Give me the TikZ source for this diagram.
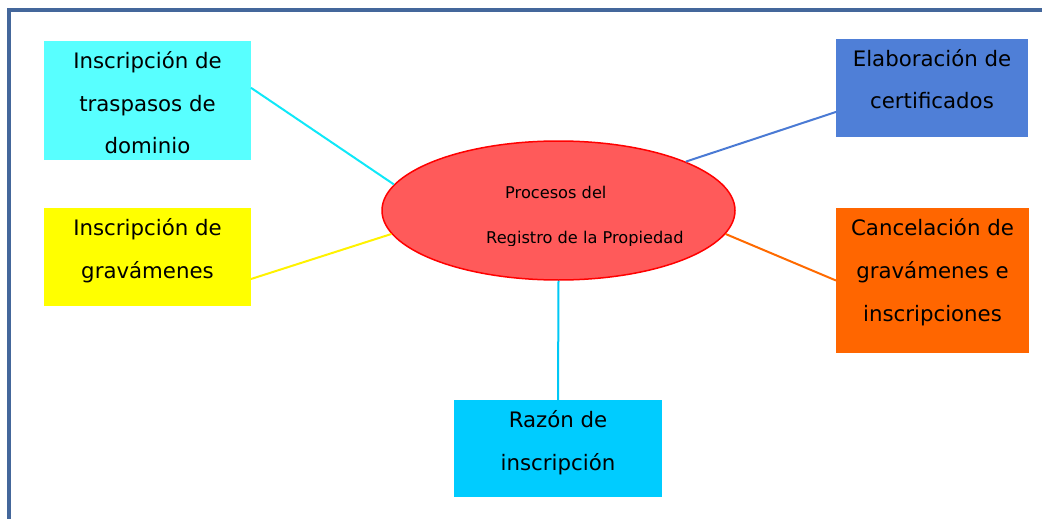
\documentclass[tikz,border=0pt]{standalone}
\usepackage{fontspec}
\setmainfont{DejaVu Sans}
\usetikzlibrary{shapes.geometric}
\definecolor{frameblue}{HTML}{44679B}
\definecolor{boxcyan}{HTML}{58FFFF}
\definecolor{boxyellow}{HTML}{FFFF00}
\definecolor{boxblue}{HTML}{4F7FD7}
\definecolor{boxorange}{HTML}{FF6600}
\definecolor{boxsky}{HTML}{00CCFF}
\definecolor{ellfill}{HTML}{FF5A5A}
\definecolor{ellborder}{HTML}{FF0000}
\definecolor{linecyan}{HTML}{10E8F8}
\definecolor{lineyellow}{HTML}{FFF200}
\definecolor{lineblue}{HTML}{4A7AD4}
\definecolor{lineorange}{HTML}{FF6A00}
\definecolor{linesky}{HTML}{00C8F5}
\newcommand\boxtxt[3]{\parbox[c][#2][t]{#1}{\centering\fontsize{21.3pt}{43pt}\selectfont\rule{0pt}{27pt}#3}}
\begin{document}
\begin{tikzpicture}[x=1pt,y=-1pt,
  procbox/.style={rectangle, inner sep=0pt, outer sep=0pt, text=black},
  conn/.style={line width=2pt},
  elltext/.style={anchor=base west, inner sep=0pt, font=\fontsize{16.2pt}{18pt}\selectfont}]
\useasboundingbox (0,0) rectangle (1042,519);
% frame
\coordinate (fa) at (9,519);
\coordinate (fb) at (9,10.5);
\coordinate (fc) at (1042,10.5);
\draw[frameblue, line width=4pt] (fa) -- (fb) -- (fc);
% boxes
\node[procbox, fill=boxcyan] (b1) at (147.5,100.5) {\boxtxt{207pt}{119pt}{Inscripción de\\traspasos de\\dominio}};
\node[procbox, fill=boxyellow] (b2) at (147.5,257) {\boxtxt{207pt}{98pt}{Inscripción de\\gravámenes}};
\node[procbox, fill=boxblue] (b3) at (932,88) {\boxtxt{192pt}{98pt}{Elaboración de\\certificados}};
\node[procbox, fill=boxorange] (b4) at (932.5,280.5) {\boxtxt{193pt}{145pt}{Cancelación de\\gravámenes e\\inscripciones}};
\node[procbox, fill=boxsky] (b5) at (558,448.5) {\boxtxt{208pt}{97pt}{Razón de\\inscripción}};
% ellipse
\node[ellipse, draw=ellborder, line width=1.5pt, fill=ellfill, minimum width=353pt, minimum height=139pt, inner sep=0pt] (ell) at (558.5,210.5) {};
\node[elltext] (t1) at (505,198) {Procesos del};
\begin{scope}
\clip (0,0) rectangle (1042,245);
\node[elltext] (t2) at (486,243) {Registro de la Propiedad};
\end{scope}
% connectors
\draw[conn, linecyan] (b1.7) -- (ell.171);
\draw[conn, lineyellow] (b2.-12.5) -- (ell.188);
\draw[conn, lineblue] (b3.194.6) -- (ell.21);
\draw[conn, lineorange] (b4.west) -- (ell.352.4);
\draw[conn, linesky] (b5.north) -- (ell.south);
\end{tikzpicture}
\end{document}
